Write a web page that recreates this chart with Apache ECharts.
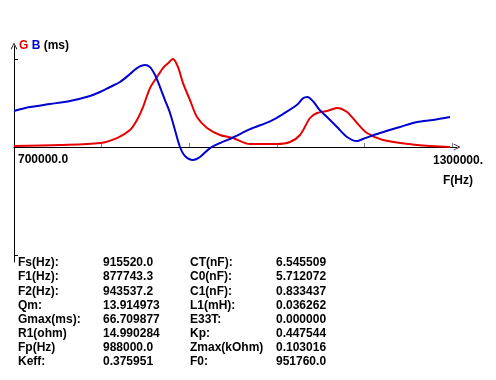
<!DOCTYPE html>
<html><head><meta charset="utf-8">
<script src="https://cdn.jsdelivr.net/npm/echarts@6/dist/echarts.min.js"></script>
<style>html,body{margin:0;padding:0;background:#fff}#c{width:496px;height:380px}</style>
</head><body><div id="c"></div>
<script>
// Frequency (Hz) and conductance G (mS)
const gFreq = [700000,763000,817800,841100,858900,868500,876700,886300,895900,904100,911000,917800,924700,931500,941100,950700,964400,982200,1000000,1023300,1060300,1078100,1091800,1105500,1115100,1128800,1142500,1156200,1169900,1183600,1205500,1252100,1297300];
const gVals = [0.8,1.5,3.0,6.8,12.9,20.5,30.3,44.7,53.1,59.9,63.5,66.7,60.5,48.5,35.6,22.7,14.4,9.1,6.8,2.3,2.3,3.8,9.1,22.0,25.8,27.3,29.6,26.5,18.2,10.6,5.3,1.5,0.0];
// Frequency (Hz) and susceptance B (mS)
const bFreq = [700000,721900,749300,776700,804100,817800,831500,845200,858900,868500,879500,886300,893200,900000,906800,913700,920500,927400,934200,945200,954800,968500,982200,1000000,1023300,1050700,1068500,1087700,1095900,1102000,1110000,1118000,1128800,1142500,1156200,1169900,1178100,1201400,1228800,1252100,1274000,1297300];
const bVals = [27.3,30.3,32.6,34.9,38.7,41.7,45.5,49.3,55.3,59.9,62.2,60.6,54.6,45.5,35.6,25.8,12.9,0.0,-6.8,-9.9,-7.6,-0.8,3.0,7.2,13.5,19.5,25.0,32.0,37.0,38.0,34.5,28.5,22.7,15.2,7.6,4.5,6.1,10.6,15.2,19.0,20.5,22.7];
// Axis tick values and labels
const xTicks = [820000,940000,1060000,1180000,1300000];
const xLabelVals = [700000];
const yTicks = [66.7,-82];
// Parameter table
const col1Labels = ['Fs(Hz):','F1(Hz):','F2(Hz):','Qm:','Gmax(ms):','R1(ohm)','Fp(Hz)','Keff:'];
const col1Values = ['915520.0','877743.3','943537.2','13.914973','66.709877','14.990284','988000.0','0.375951'];
const col2Labels = ['CT(nF):','C0(nF):','C1(nF):','L1(mH):','E33T:','Kp:','Zmax(kOhm)','F0:'];
const col2Values = ['6.545509','5.712072','0.833437','0.036262','0.000000','0.447544','0.103016','951760.0'];

const FF = '"Liberation Sans", Arial, sans-serif';
const FONT = 'bold 12px ' + FF;
const arrow = 'path://M0,10 L5,0 L10,10 L9,10.6 L5,2.4 L1,10.6 Z';

const graphics = [];
const rowY0 = 263, rowDY = 14.1;
const cols = [[18,col1Labels],[103,col1Values],[190,col2Labels],[276,col2Values]];
cols.forEach(([x, arr]) => {
  arr.forEach((t, i) => {
    graphics.push({type:'text', style:{x:x, y:rowY0 + i*rowDY, text:t, font:FONT, fill:'#000', verticalAlign:'middle', align:'left'}});
  });
});
// x-axis start label
xLabelVals.forEach(v => {
  graphics.push({type:'text', style:{x:18, y:160, text:v.toFixed(1), font:FONT, fill:'#000', verticalAlign:'middle', align:'left'}});
});

const chart = echarts.init(document.getElementById('c'), null, {renderer:'canvas'});
chart.setOption({
  animation:false,
  backgroundColor:'#fff',
  grid:{left:14, right:39, top:46, bottom:118, containLabel:false},
  xAxis:{
    type:'value', min:700000, max:1306849,
    axisLine:{onZero:true, lineStyle:{color:'#000', width:1}, symbol:['none', arrow], symbolSize:[8,7]},
    axisTick:{show:true, inside:true, length:4, lineStyle:{color:'#808080'}, customValues:xTicks},
    axisLabel:{show:false},
    splitLine:{show:false},
    name:'1300000.\nF(Hz)', nameLocation:'end', nameGap:1,
    nameTextStyle:{align:'center', verticalAlign:'top', lineHeight:20, padding:[4,0,0,0], color:'#000', fontFamily:FF, fontWeight:'bold', fontSize:12}
  },
  yAxis:{
    type:'value', min:-87.2, max:76.6,
    axisLine:{show:true, onZero:false, lineStyle:{color:'#000', width:1}, symbol:['none', arrow], symbolSize:[8,7]},
    axisTick:{show:true, inside:true, length:4, lineStyle:{color:'#000'}, customValues:yTicks},
    axisLabel:{show:false},
    splitLine:{show:false},
    name:'{g|G} {b|B} {k|(ms)}', nameLocation:'end', nameGap:0,
    nameTextStyle:{align:'left', verticalAlign:'middle', padding:[0,0,0,5], color:'#000', fontFamily:FF, fontWeight:'bold', fontSize:12,
      rich:{g:{color:'#e00000', fontWeight:'bold', fontSize:12, fontFamily:FF}, b:{color:'#0000d0', fontWeight:'bold', fontSize:12, fontFamily:FF}, k:{color:'#000', fontWeight:'bold', fontSize:12, fontFamily:FF}}}
  },
  series:[
    {type:'line', name:'G', data:gFreq.map((f,i)=>[f,gVals[i]]), smooth:0.3, showSymbol:false, lineStyle:{color:'#e80000', width:2}, z:3},
    {type:'line', name:'B', data:bFreq.map((f,i)=>[f,bVals[i]]), smooth:0.3, showSymbol:false, lineStyle:{color:'#0000d0', width:2}, z:4}
  ],
  graphic:graphics
});
</script></body></html>
